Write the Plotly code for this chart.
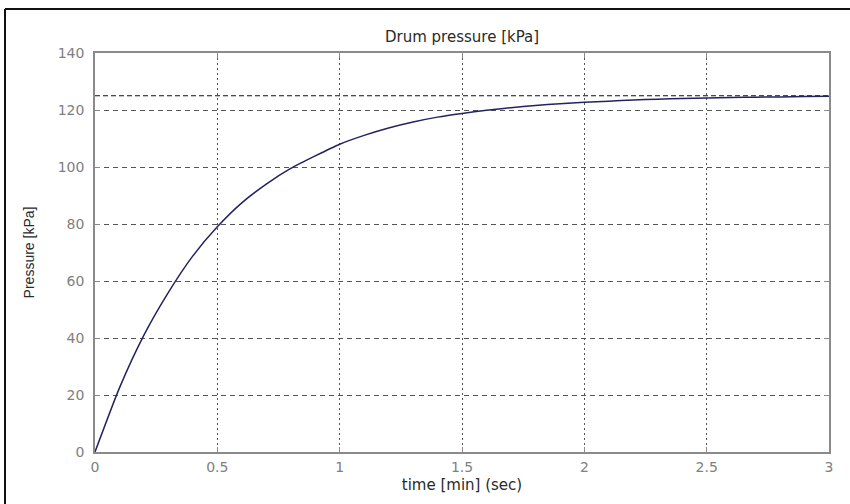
import plotly.graph_objects as go

# Drum pressure step response, sampled every 0.1 min
time_min = [0.0, 0.1, 0.2, 0.3, 0.4, 0.5, 0.6, 0.7, 0.8, 0.9, 1.0,
            1.1, 1.2, 1.3, 1.4, 1.5, 1.6, 1.7, 1.8, 1.9, 2.0,
            2.1, 2.2, 2.3, 2.4, 2.5, 2.6, 2.7, 2.8, 2.9, 3.0]
pressure_kpa = [0.0, 22.5, 41.0, 56.0, 68.8, 79.0, 87.4, 94.0, 99.5, 103.9, 108.0,
                111.1, 113.7, 115.8, 117.5, 118.8, 119.9, 120.8, 121.6, 122.2, 122.7,
                123.1, 123.5, 123.8, 124.0, 124.2, 124.4, 124.5, 124.6, 124.7, 124.8]

# Steady-state reference level
setpoint_x = [0.0, 3.0]
setpoint_kpa = [125.0, 125.0]

x_ticks = [0, 0.5, 1, 1.5, 2, 2.5, 3]
x_tick_text = ["0", "0.5", "1", "1.5", "2", "2.5", "3"]
y_ticks = [0, 20, 40, 60, 80, 100, 120, 140]

WIDE = "DejaVu Sans, Verdana, sans-serif"
NARROW = "Liberation Sans, Arial, sans-serif"

fig = go.Figure()
fig.add_trace(go.Scatter(
    x=setpoint_x, y=setpoint_kpa, mode="lines",
    line=dict(color="#111111", width=1.2, dash="5px,3px"),
    hoverinfo="skip", showlegend=False,
))
fig.add_trace(go.Scatter(
    x=time_min, y=pressure_kpa, mode="lines",
    line=dict(color="#23235e", width=1.5, shape="spline", smoothing=0.6),
    showlegend=False,
))

axis_common = dict(
    showline=True, linecolor="#8a8a8a", linewidth=1.5, mirror="ticks",
    ticks="inside", ticklen=5, tickcolor="#8a8a8a", tickwidth=1,
    showgrid=True, gridcolor="#555555", gridwidth=1,
    zeroline=False, automargin=False,
    tickfont=dict(family=WIDE, size=14, color="#808080"),
)

fig.update_xaxes(
    range=[0, 3], tickvals=x_ticks, ticktext=x_tick_text,
    griddash="2px,3px", ticklabelstandoff=1,
    title=dict(text="time [min] (sec)", font=dict(family=WIDE, size=15, color="#2a2a2a"),
               standoff=6),
    **axis_common,
)
fig.update_yaxes(
    range=[0, 140], tickvals=y_ticks,
    griddash="5px,4px", ticklabelstandoff=6,
    title=dict(text="Pressure [kPa]", font=dict(family=NARROW, size=14, color="#2a2a2a"),
               standoff=20),
    **axis_common,
)

fig.update_layout(
    width=850, height=504,
    margin=dict(l=95, r=21, t=53, b=52),
    paper_bgcolor="white", plot_bgcolor="white",
    title=dict(text="Drum pressure [kPa]", x=0.5436, xanchor="center",
               y=1 - 37 / 504, yanchor="middle", yref="container",
               font=dict(family=WIDE, size=15, color="#2a2a2a")),
    shapes=[
        # Outer frame: top and left edges
        dict(type="line", xref="paper", yref="paper",
             x0=-90 / 734, x1=1 + 21 / 734, y0=1 + 44 / 399, y1=1 + 44 / 399,
             line=dict(color="#111111", width=2)),
        dict(type="line", xref="paper", yref="paper",
             x0=-90 / 734, x1=-90 / 734, y0=-52 / 399, y1=1 + 44 / 399,
             line=dict(color="#111111", width=2)),
    ],
)

fig.write_html("out.html")
